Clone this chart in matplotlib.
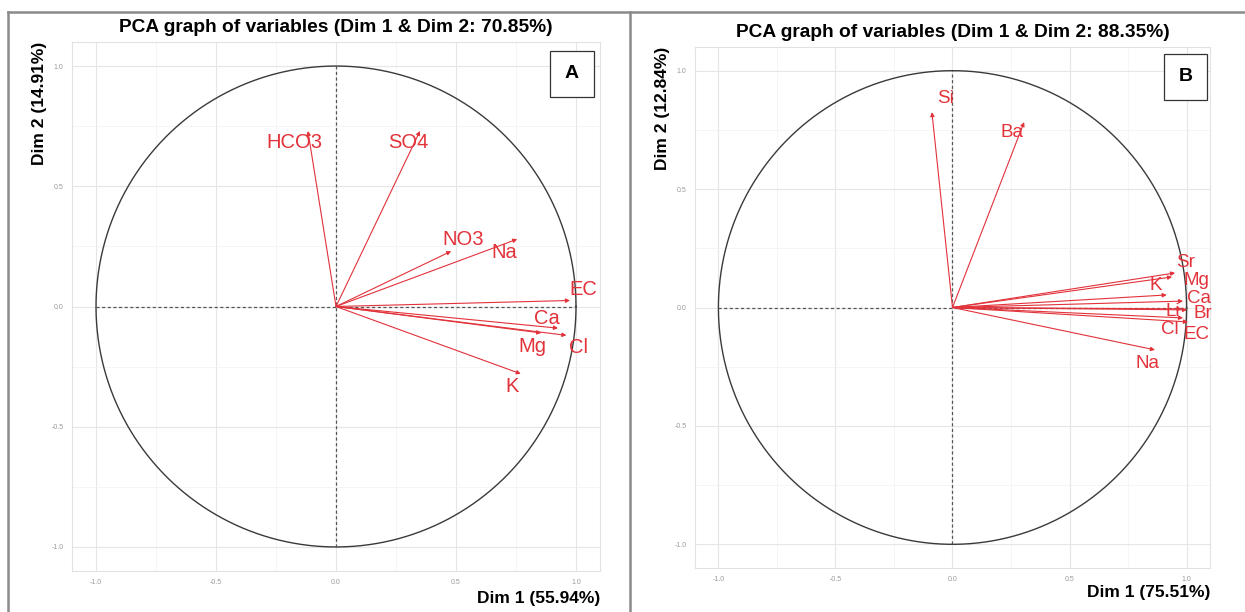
import numpy as np
import matplotlib
matplotlib.use("Agg")
import matplotlib.pyplot as plt

plt.rcParams['font.family'] = ['Liberation Sans', 'DejaVu Sans']

# panel A: variable coordinates (Dim 1, Dim 2)
vars_a = ['HCO3', 'SO4', 'NO3', 'Na', 'EC', 'Ca', 'Mg', 'Cl', 'K']
dim1_a = [-0.117, 0.35, 0.48, 0.755, 0.975, 0.925, 0.855, 0.96, 0.77]
dim2_a = [0.73, 0.73, 0.23, 0.28, 0.025, -0.09, -0.11, -0.12, -0.28]
title_a = 'PCA graph of variables (Dim 1 & Dim 2: 70.85%)'
xlab_a = 'Dim 1 (55.94%)'
ylab_a = 'Dim 2 (14.91%)'

# panel B
vars_b = ['Si', 'Ba', 'Sr', 'Mg', 'K', 'Ca', 'Li', 'Br', 'Cl', 'EC', 'Na']
dim1_b = [-0.088, 0.306, 0.951, 0.938, 0.915, 0.985, 0.98, 1.002, 0.985, 1.006, 0.865]
dim2_b = [0.825, 0.783, 0.146, 0.129, 0.053, 0.027, -0.006, -0.01, -0.044, -0.061, -0.179]
title_b = 'PCA graph of variables (Dim 1 & Dim 2: 88.35%)'
xlab_b = 'Dim 1 (75.51%)'
ylab_b = 'Dim 2 (12.84%)'

ticks = [-1.0, -0.5, 0.0, 0.5, 1.0]

# label offsets from arrow tip (layout only)
off_a = [(-0.058, -0.047), (-0.05, -0.047), (0.05, 0.05), (-0.055, -0.055), (0.055, 0.045),
         (-0.045, 0.04), (-0.035, -0.057), (0.05, -0.051), (-0.037, -0.053)]
off_b = [(0.056, 0.059), (-0.05, -0.042), (0.046, 0.046), (0.106, -0.015), (-0.045, 0.042),
         (0.068, 0.011), (-0.038, -0.013), (0.068, -0.017), (-0.056, -0.051), (0.038, -0.055),
         (-0.034, -0.056)]

W, H = 1245, 612
fig = plt.figure(figsize=(W / 100, H / 100), dpi=100)
red = '#E2323A'


def px_axes(l, t, r, b):
    return fig.add_axes([l / W, 1 - b / H, (r - l) / W, (b - t) / H])


def draw_panel(ax, names, d1, d2, offs, title, xlab, ylab, letter, box_xy, lab_fs, xpad):
    ax.set_xlim(-1.1, 1.1)
    ax.set_ylim(-1.1, 1.1)
    ax.set_xticks(ticks)
    ax.set_yticks(ticks)
    ax.set_xticks(np.arange(-1.0, 1.01, 0.25), minor=True)
    ax.set_yticks(np.arange(-1.0, 1.01, 0.25), minor=True)
    ax.set_xticklabels(['%.1f' % t for t in ticks])
    ax.set_yticklabels(['%.1f' % t for t in ticks])
    ax.tick_params(which='both', length=0, labelsize=5, labelcolor='#9a9a9a', pad=6)
    ax.grid(which='major', color='#e6e6e6', lw=0.8)
    ax.grid(which='minor', color='#f1f1f1', lw=0.5)
    ax.set_axisbelow(True)
    for s in ax.spines.values():
        s.set_color('#e2e2e2')
        s.set_linewidth(0.8)

    t = np.linspace(0, 2 * np.pi, 400)
    ax.plot(np.cos(t), np.sin(t), color='#3a3a3a', lw=1.0)
    ax.plot([-1, 1], [0, 0], color='#555555', lw=0.9, ls=(0, (2.5, 2)))
    ax.plot([0, 0], [-1, 1], color='#555555', lw=0.9, ls=(0, (2.5, 2)))

    for n, x, y, (dx, dy) in zip(names, d1, d2, offs):
        ax.annotate('', xy=(x, y), xytext=(0, 0),
                    arrowprops=dict(arrowstyle='-|>', color=red, lw=0.8,
                                    mutation_scale=6, shrinkA=0, shrinkB=0))
        ax.text(x + dx, y + dy, n, color=red, fontsize=lab_fs, ha='center', va='center')

    ax.set_title(title, fontsize=13.8, fontweight='bold', pad=7)
    ax.set_xlabel(xlab, fontsize=12.5, fontweight='bold', loc='right', labelpad=xpad)
    ax.set_ylabel(ylab, fontsize=12.5, fontweight='bold', loc='top', labelpad=3)
    ax.text(box_xy[0], box_xy[1], letter, transform=ax.transAxes, fontsize=14,
            fontweight='bold', ha='center', va='center',
            bbox=dict(boxstyle='square,pad=0.75', fc='white', ec='#333333', lw=0.9))


ax1 = px_axes(72, 42, 600, 571)
draw_panel(ax1, vars_a, dim1_a, dim2_a, off_a, title_a, xlab_a, ylab_a, 'A',
           (0.947, 0.940), 14.5, 3)
ax2 = px_axes(695, 47, 1210, 568)
draw_panel(ax2, vars_b, dim1_b, dim2_b, off_b, title_b, xlab_b, ylab_b, 'B',
           (0.952, 0.943), 13.5, 1.5)

# outer frame of the two panels
for xs, ys in [([8, W], [12, 12]), ([8, 8], [12, H]), ([630, 630], [12, H])]:
    fig.add_artist(plt.Line2D([x / W for x in xs], [1 - y / H for y in ys],
                              color='#8a8a8a', lw=1.8))

fig.savefig('out.png', dpi=100)
